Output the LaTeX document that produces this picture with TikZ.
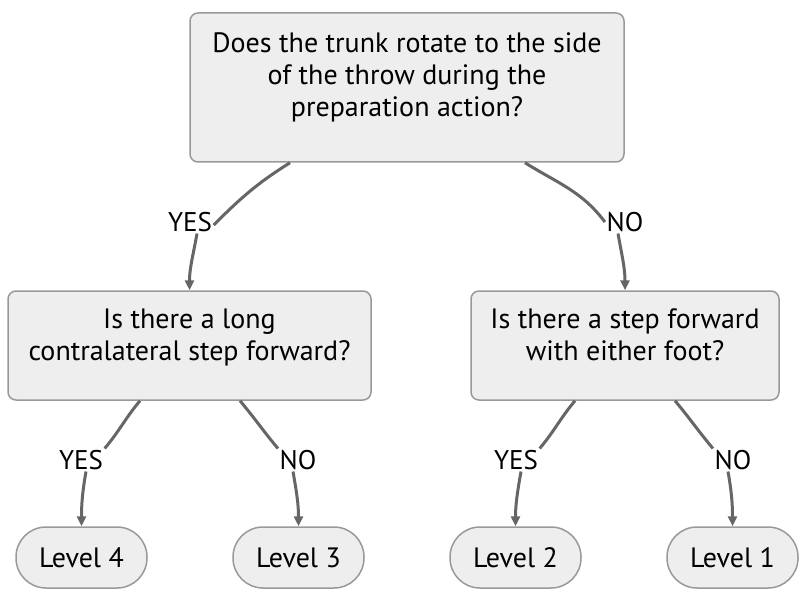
\documentclass[tikz,border=0pt]{standalone}
\usepackage{fontspec}
\setmainfont{PT Sans}
\usetikzlibrary{arrows.meta}
\definecolor{boxfill}{HTML}{EEEEEE}
\definecolor{boxline}{HTML}{999999}
\definecolor{edgegray}{HTML}{666666}
\tikzset{
every picture/.style={
line width=1.5pt
},
question/.style={draw=boxline,fill=boxfill,rounded corners=8pt,align=center,font=\fontsize{28}{32}\selectfont},
level/.style={draw=boxline,fill=boxfill,rounded corners=30pt,minimum width=131pt,minimum height=61pt,font=\fontsize{28}{32}\selectfont},
answer/.style={fill=white,inner sep=1pt,font=\fontsize{27}{30}\selectfont},
edge/.style={draw=edgegray,line width=3pt},
arrow/.style={edge,-{Triangle[length=10pt,width=9pt]}}
}

\begin{document}
\begin{tikzpicture}[x=1pt,y=-1pt]
  \useasboundingbox (0,0) rectangle (810,604);
  % throwing decision tree
  \node[question,minimum width=434pt,minimum height=149pt,text depth=26pt] at (407,87.5) (trunk) {Does the trunk rotate to the side\\of the throw during the\\preparation action?};
  \node[question,minimum width=363pt,minimum height=109pt,text depth=21pt] at (189.5,345.5) (long) {Is there a long\\contralateral step forward?};
  \node[question,minimum width=308pt,minimum height=109pt,text depth=21pt] at (625,345.5) (step) {Is there a step forward\\with either foot?};

  \node[level] at (81.5,557.5) (lv4) {Level 4};
  \node[level] at (298.5,557.5) (lv3) {Level 3};
  \node[level] at (515.5,557.5) (lv2) {Level 2};
  \node[level] at (732.5,557.5) (lv1) {Level 1};

  \node[answer] at (190,222) (yesA) {YES};
  \node[answer] at (625,222) (noA) {NO};
  \node[answer] at (81,460) (yesB) {YES};
  \node[answer] at (298,460) (noB) {NO};
  \node[answer] at (516,460) (yesC) {YES};
  \node[answer] at (733,460) (noC) {NO};

  \draw[edge] ([xshift=-117pt]trunk.south) to[out=-148,in=45] ([yshift=-3pt]yesA.east);
  \draw[arrow] ([xshift=7pt]yesA.south) to[out=-100,in=90] (long);
  \draw[edge] ([xshift=118pt]trunk.south) to[out=-32,in=127] (noA.west);
  \draw[arrow] ([xshift=-7pt]noA.south) to[out=-80,in=90] (step);

  \draw[edge] ([xshift=-49.5pt]long.south) to[out=-130,in=50] (yesB.north east);
  \draw[arrow] ([xshift=5pt]yesB.south) to[out=-100,in=90] (lv4);
  \draw[edge] ([xshift=50.5pt]long.south) to[out=-50,in=130] (noB.north west);
  \draw[arrow] ([xshift=-5pt]noB.south) to[out=-80,in=90] (lv3);

  \draw[edge] ([xshift=-50pt]step.south) to[out=-130,in=50] (yesC.north east);
  \draw[arrow] ([xshift=5pt]yesC.south) to[out=-100,in=90] (lv2);
  \draw[edge] ([xshift=50pt]step.south) to[out=-50,in=130] (noC.north west);
  \draw[arrow] ([xshift=-5pt]noC.south) to[out=-80,in=90] (lv1);
\end{tikzpicture}
\end{document}
